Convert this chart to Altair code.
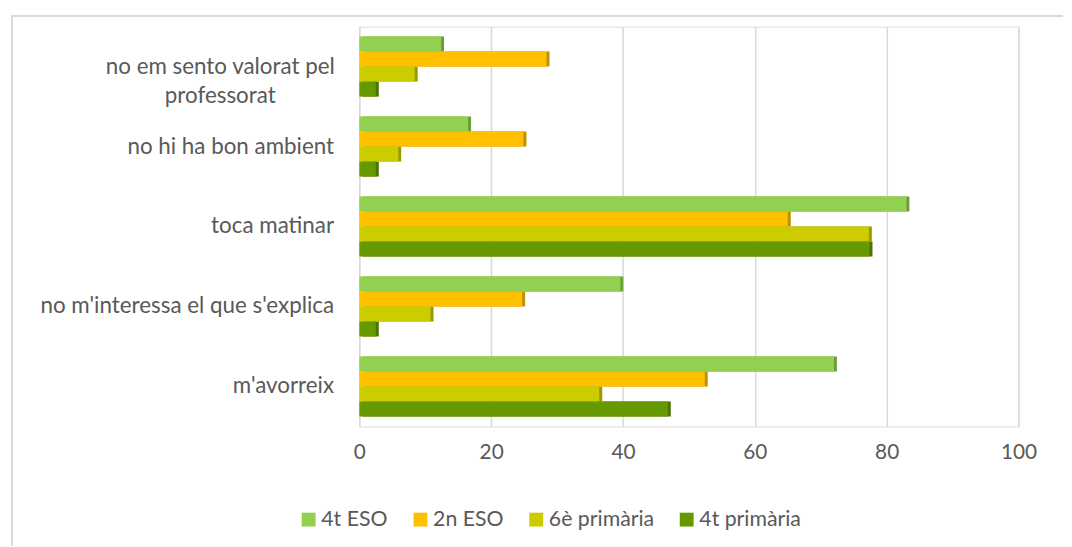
import altair as alt
import pandas as pd

categories = [
    "no em sento valorat pel professorat",
    "no hi ha bon ambient",
    "toca matinar",
    "no m'interessa el que s'explica",
    "m'avorreix",
]
series = ["4t ESO", "2n ESO", "6è primària", "4t primària"]
colors = ["#92D050", "#FFC000", "#CCCC00", "#669900"]
dark_colors = ["#6E9E3C", "#BF9000", "#999900", "#4C7300"]

eso4 = [12.4, 16.5, 83.0, 39.6, 72.0]
eso2 = [28.4, 24.9, 65.0, 24.7, 52.4]
prim6 = [8.4, 5.9, 77.3, 10.8, 36.4]
prim4 = [2.5, 2.5, 77.4, 2.5, 46.8]

rows = []
for s, vals in zip(series, [eso4, eso2, prim6, prim4]):
    for c, v in zip(categories, vals):
        rows.append({"categoria": c, "serie": s, "valor": v})
df = pd.DataFrame(rows)

LONG = categories[0]
FONT = "Lato"
TXT = "#595959"

y_enc = alt.Y(
    "categoria:N",
    sort=categories,
    title=None,
    scale=alt.Scale(paddingInner=0.25, paddingOuter=0.125),
    axis=alt.Axis(
        ticks=False,
        domain=False,
        labelFont=FONT,
        labelFontSize=22.6,
        labelColor=TXT,
        labelLimit=400,
        labelLineHeight=30,
        labelAlign={"condition": {"test": f"datum.value == \"{LONG}\"", "value": "center"}, "value": "right"},
        labelPadding={"condition": {"test": f"datum.value == \"{LONG}\"", "value": 141}, "value": 26},
        labelExpr=f"datum.value == \"{LONG}\" ? ['no em sento valorat pel', 'professorat'] : datum.value",
        minExtent=353,
        maxExtent=353,
    ),
)

x_enc = alt.X(
    "valor:Q",
    title=None,
    scale=alt.Scale(domain=[0, 100], nice=False),
    axis=alt.Axis(
        values=[0, 20, 40, 60, 80, 100],
        ticks=False,
        domain=False,
        grid=True,
        gridColor="#d9d9d9",
        gridWidth=1.5,
        labelFont=FONT,
        labelFontSize=21,
        labelColor=TXT,
        labelPadding=15,
        labelFlush=False,
    ),
)

yoff = alt.YOffset("serie:N", sort=series, scale=alt.Scale(paddingInner=0, paddingOuter=0))

shadow = alt.Chart(df).mark_bar(xOffset=3, yOffset=-3).encode(
    x=x_enc,
    y=y_enc,
    yOffset=yoff,
    color=alt.Color("serie:N", scale=alt.Scale(domain=series, range=dark_colors), legend=None),
)

bars = alt.Chart(df).mark_bar().encode(
    x=x_enc,
    y=y_enc,
    yOffset=yoff,
    color=alt.Color(
        "serie:N",
        sort=series,
        scale=alt.Scale(domain=series, range=colors),
        title=None,
        legend=alt.Legend(
            orient="none",
            direction="horizontal",
            legendX=-62,
            legendY=487,
            symbolType="square",
            symbolSize=196,
            symbolStrokeWidth=0,
            labelFont=FONT,
            labelFontSize=21.5,
            labelColor=TXT,
            labelOffset=2,
            columnPadding=22,
            labelLimit=300,
        ),
    ),
)

top_line = alt.Chart(df).mark_rule(color="#d9d9d9", strokeWidth=1.5).encode(
    x=alt.value(-351), x2=alt.value(711), y=alt.value(-11)
)
left_line = alt.Chart(df).mark_rule(color="#d9d9d9", strokeWidth=1.5).encode(
    x=alt.value(-351), y=alt.value(-11), y2=alt.value(524)
)

chart = (
    alt.layer(top_line, left_line, shadow, bars)
    .resolve_scale(color="independent")
    .properties(width=666, height=404, padding={"left": 2, "top": 4, "right": 0, "bottom": 0})
    .configure_view(stroke=None)
    .configure(background="white")
)

chart.save("out.html", embed_options={"renderer": "svg", "actions": False})
